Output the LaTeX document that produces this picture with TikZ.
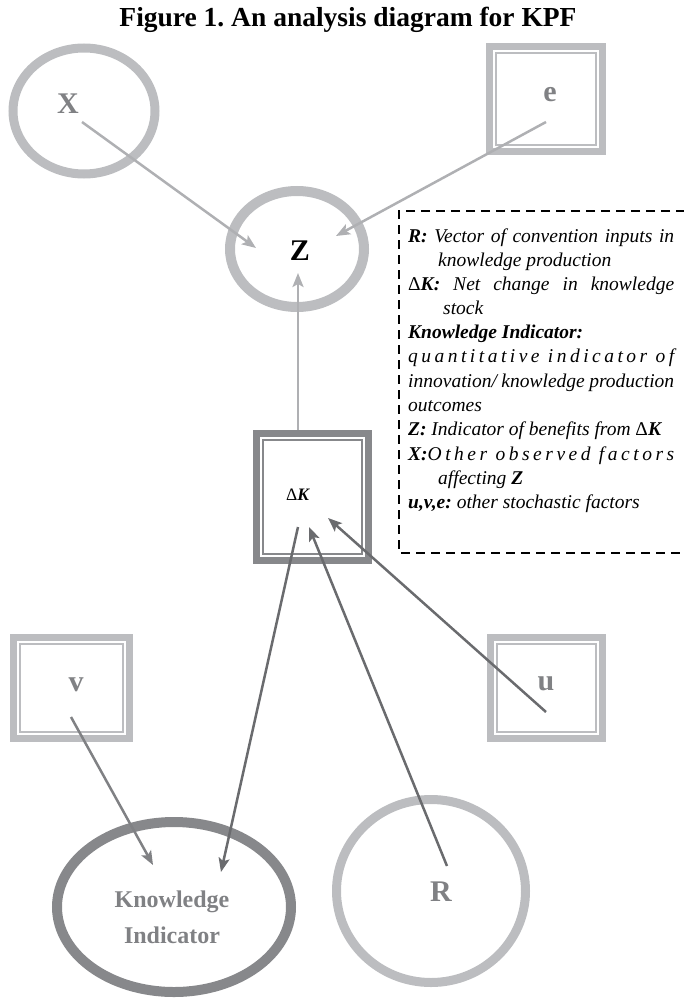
\documentclass[tikz,border=0pt]{standalone}
\usepackage{fontspec}
\setmainfont{Liberation Serif}
\usetikzlibrary{arrows.meta,shapes.geometric,calc}
\frenchspacing

\definecolor{lightline}{HTML}{BCBDC0}
\definecolor{darkline}{HTML}{87888B}
\definecolor{labelgray}{HTML}{808184}
\definecolor{lightarrow}{HTML}{AFB0B3}
\definecolor{midarrow}{HTML}{808184}
\definecolor{darkarrow}{HTML}{6A6B6E}

% letter-spaced word: glue after every letter
\makeatletter
\def\lsword#1{\lsword@#1\@nil}
\def\lsword@#1{\ifx\@nil#1\else#1\hskip0pt plus1fil\relax\expandafter\lsword@\fi}
\makeatother

\begin{document}
\begin{tikzpicture}[x=1pt,y=-1pt,
  ell/.style={ellipse, draw, inner sep=0pt, outer sep=0pt},
  lightell/.style={ell, draw=lightline, line width=9pt},
  darkell/.style={ell, draw=darkline, line width=10pt},
  dbox/.style={rectangle, draw, line width=7pt, inner sep=0pt, outer sep=3.5pt},
  lbl/.style={font=\bfseries\fontsize{30}{30}\selectfont, text=labelgray, inner sep=0pt},
  conn/.style={line width=2.5pt, -{Stealth[length=14pt,width=11pt,inset=3pt]}},
  leg/.style={font=\itshape\fontsize{19.5}{22}\selectfont, inner sep=0pt, anchor=base west}]

\useasboundingbox (0,0) rectangle (684,1003);

% title
\node[font=\bfseries\fontsize{27.5}{30}\selectfont, inner sep=0pt] (title) at (348,20)
  {Figure 1. An analysis diagram for KPF};

% ellipses
\node[lightell, minimum width=142pt, minimum height=126pt] (X) at (84,111) {};
\node[lightell, line width=10pt, minimum width=134pt, minimum height=116pt] (Z) at (297,249) {};
\node[darkell, minimum width=234pt, minimum height=170pt] (KI) at (174,907) {};
\node[lightell, minimum width=189pt, minimum height=183pt] (R) at (431,891) {};

% double-framed boxes
\node[dbox, draw=lightline, minimum width=113pt, minimum height=105pt] (e) at (546,99) {};
\node[dbox, draw=darkline, minimum width=112pt, minimum height=127pt] (dk) at (312.5,497) {};
\node[dbox, draw=lightline, minimum width=116pt, minimum height=101pt] (v) at (71.5,688) {};
\node[dbox, draw=lightline, minimum width=112pt, minimum height=101pt] (u) at (546.5,688) {};
\foreach \b/\c in {e/lightline, dk/darkline, v/lightline, u/lightline}
  \draw[\c, line width=2pt] ([xshift=10pt,yshift=-10pt]\b.north west)
    rectangle ([xshift=-10pt,yshift=10pt]\b.south east);

% labels
\node[lbl] (Xt) at (68,104) {X};
\node[lbl, text=black] (Zt) at (300,251) {Z};
\node[lbl] (et) at (550,95) {e};
\node[lbl] (vt) at (76,685) {v};
\node[lbl] (ut) at (546,684) {u};
\node[lbl] (Rt) at (441,892) {R};
\node[inner sep=0pt, font=\fontsize{17.5}{17.5}\selectfont] (dkt) at (298,495)
  {{\upshape Δ}\textbf{\textit{K}}};
\node[inner sep=0pt, align=center, text=labelgray,
  font=\bfseries\fontsize{24}{36}\selectfont] (KIt) at (172,917)
  {Knowledge\\Indicator};

% connectors
\draw[conn, lightarrow] ($(X)+(-2,11)$) -- ($(Z)+(-41,-1)$);
\draw[conn, lightarrow] ($(e)+(0,23)$) -- ($(Z)+(39,-13)$);
\draw[conn, lightarrow] ($(dk)+(-14.5,-67)$) -- ($(Z)+(1,24)$);
\draw[conn, darkarrow] ($(dk)+(-14.5,30)$) -- ($(KI)+(47,-35)$);
\draw[conn, darkarrow] ($(R)+(16,-25)$) -- ($(dk)+(-3.5,30)$);
\draw[conn, darkarrow] ($(u)+(-0.5,24)$) -- ($(dk)+(15.5,21)$);
\draw[conn, midarrow] ($(v)+(-0.5,29)$) -- ($(KI)+(-21,-42)$);

% legend frame, open on the right
\draw[black, line width=2pt, dash pattern=on 9pt off 6pt]
  (700,211) -- (399,211) -- (399,553) -- (700,553);

% legend text
\node[leg] (l1) at (408,242) {\makebox[266pt][s]{\textbf{R:} Vector of convention inputs in}};
\node[leg] (l2) at (438,266) {knowledge production};
\node[leg] (l3) at (408,290) {\makebox[266pt][s]{{\upshape Δ}\textbf{K:} Net change in knowledge}};
\node[leg] (l4) at (443,314) {stock};
\node[leg] (l5) at (408,338) {\textbf{Knowledge Indicator:}};
\node[leg] (l6) at (408,362) {\makebox[266pt][s]{\lsword{quantitative} \lsword{indicator} \lsword{of}\unskip}};
\node[leg] (l7) at (408,387) {\makebox[266pt][s]{innovation/ knowledge production}};
\node[leg] (l8) at (408,411) {outcomes};
\node[leg] (l9) at (408,435) {\textbf{Z:} Indicator of benefits from {\upshape Δ}\textbf{K}};
\node[leg] (l10) at (408,460) {\makebox[266pt][s]{\textbf{X:}\lsword{Other} \lsword{observed} \lsword{factors}\unskip}};
\node[leg] (l11) at (438,484) {affecting \textbf{Z}};
\node[leg] (l12) at (408,508) {\textbf{u,v,e:} other stochastic factors};

\end{tikzpicture}
\end{document}
